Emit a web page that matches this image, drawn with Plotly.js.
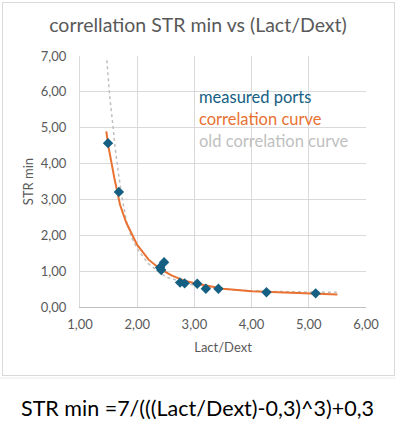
<!DOCTYPE html>
<html>
<head>
<meta charset="utf-8">
<script src="https://cdn.plot.ly/plotly-3.0.1.min.js"></script>
<style>
html,body{margin:0;padding:0;background:#fff;}
#wrap{position:relative;width:396px;height:434px;}
#chart{position:absolute;left:0;top:0;width:396px;height:434px;}
#frame{position:absolute;left:2px;top:2px;width:391px;height:372px;border:1px solid #d9d9d9;pointer-events:none;}
</style>
</head>
<body>
<div id="wrap"><div id="chart"></div><div id="frame"></div></div>
<script>
// measured ports
const measX = [1.49, 1.68, 2.40, 2.42, 2.47, 2.75, 2.83, 3.05, 3.20, 3.42, 4.26, 5.12];
const measY = [4.57, 3.21, 1.10, 1.03, 1.25, 0.68, 0.66, 0.65, 0.51, 0.51, 0.41, 0.38];
// correlation curve
const corrX = [1.46, 1.50, 1.60, 1.70, 1.81, 2.00, 2.20, 2.40, 2.60, 2.80, 3.00, 3.50, 4.00, 5.00, 5.50];
const corrY = [4.90, 4.45, 3.60, 2.85, 2.35, 1.73, 1.32, 1.06, 0.88, 0.75, 0.66, 0.51, 0.44, 0.37, 0.35];
// old correlation curve
const oldX = [1.47, 1.52, 1.58, 1.61, 1.67, 1.73, 1.81, 1.90, 2.00, 2.20, 2.50, 3.00, 3.50, 4.00, 4.50, 5.00, 5.50];
const oldY = [6.88, 5.87, 4.99, 4.50, 3.75, 3.10, 2.40, 1.95, 1.62, 1.20, 0.84, 0.60, 0.50, 0.45, 0.43, 0.42, 0.41];

const titleText = "correllation STR min vs (Lact/Dext)";
const xTitle = "Lact/Dext";
const yTitle = "STR min";
const formulaText = "STR min =7/(((Lact/Dext)-0,3)^3)+0,3";
const legendNames = ["measured ports", "correlation curve", "old correlation curve"];

const cMeas = "#156082", cCorr = "#E97132", cOld = "#bfbfbf";

const traces = [
  {x: oldX, y: oldY, mode: "lines", name: legendNames[2], line: {color: cOld, width: 1.5, dash: "dot"}},
  {x: corrX, y: corrY, mode: "lines", name: legendNames[1], line: {color: cCorr, width: 2}},
  {x: measX, y: measY, mode: "markers", name: legendNames[0], marker: {symbol: "diamond", size: 8, color: cMeas}}
];

const font = "Lato, 'Open Sans', sans-serif";
const layout = {
  width: 396, height: 434,
  margin: {l: 80, r: 30, t: 56, b: 127},
  paper_bgcolor: "#fff", plot_bgcolor: "#fff",
  separators: ",.",
  showlegend: false,
  font: {family: font, color: "#595959", size: 13},
  title: {text: titleText, x: 0.5, xref: "container", xanchor: "center", y: 1 - 25/434, yanchor: "middle",
          font: {size: 19.5, color: "#595959", family: font}},
  xaxis: {range: [1, 6], dtick: 1, tickformat: ".2f", showgrid: true, gridcolor: "#d9d9d9", gridwidth: 1,
          zeroline: false, showline: true, linecolor: "#bfbfbf", ticks: "", ticklabelstandoff: 5,
          tickfont: {size: 13, color: "#595959"},
          title: {text: xTitle, standoff: 12, font: {size: 13, color: "#595959"}}},
  yaxis: {range: [0, 7], dtick: 1, tickformat: ".2f", showgrid: true, gridcolor: "#d9d9d9", gridwidth: 1,
          zeroline: false, showline: true, linecolor: "#d9d9d9", ticks: "", ticklabelstandoff: 10,
          tickfont: {size: 13, color: "#595959"},
          title: {text: yTitle, standoff: 4, font: {size: 13, color: "#595959"}}},
  annotations: [
    {text: legendNames[0], xref: "paper", yref: "paper", x: 117/286, y: (307 - 97)/251, xanchor: "left", yanchor: "middle", showarrow: false, font: {size: 16.5, color: cMeas, family: font}},
    {text: legendNames[1], xref: "paper", yref: "paper", x: 117/286, y: (307 - 119)/251, xanchor: "left", yanchor: "middle", showarrow: false, font: {size: 16.5, color: cCorr, family: font}},
    {text: legendNames[2], xref: "paper", yref: "paper", x: 117/286, y: (307 - 141)/251, xanchor: "left", yanchor: "middle", showarrow: false, font: {size: 16.5, color: cOld, family: font}},
    {text: formulaText, xref: "paper", yref: "paper", x: (197 - 80)/286, y: (307 - 408)/251, xanchor: "center", yanchor: "middle", showarrow: false, font: {size: 21.5, color: "#000", family: font}}
  ],
  shapes: [
    {type: "line", xref: "paper", yref: "paper", x0: -80/286, x1: 316/286, y0: (307 - 378)/251, y1: (307 - 378)/251, line: {color: "#ececec", width: 1}}
  ]
};

Plotly.newPlot("chart", traces, layout, {displayModeBar: false, staticPlot: true});
</script>
</body>
</html>
